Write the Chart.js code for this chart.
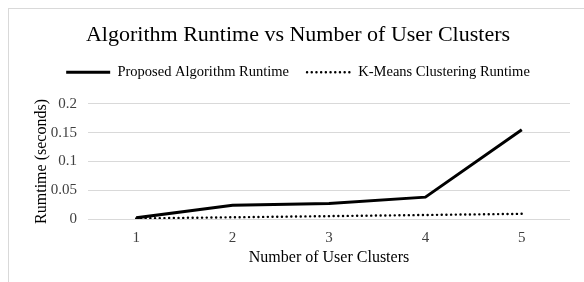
<!DOCTYPE html>
<html>
<head>
<meta charset="utf-8">
<script src="https://cdn.jsdelivr.net/npm/chart.js@4/dist/chart.umd.min.js"></script>
<style>
  html, body { margin: 0; padding: 0; background: #fff; }
  #wrap { position: relative; width: 584px; height: 282px; }
  #frame { position: absolute; left: 8px; top: 8px; width: 600px; height: 300px;
           border-left: 1px solid #d9d9d9; border-top: 1px solid #d9d9d9; }
  canvas { position: absolute; left: 0; top: 0; }
</style>
</head>
<body>
<div id="wrap">
  <div id="frame"></div>
  <canvas id="runtime-chart" width="584" height="282"></canvas>
</div>
<script>
// values
const clusters = ['1', '2', '3', '4', '5'];
const proposedRuntime = [0.002, 0.024, 0.027, 0.038, 0.155];
const kmeansRuntime = [0.001, 0.003, 0.005, 0.007, 0.009];
const yTicks = [0, 0.05, 0.1, 0.15, 0.2];

const serif = 'Liberation Serif, Times New Roman, serif';

// title and legend are centred on the wider outer frame, not the canvas
const headerPlacement = {
    id: 'headerPlacement',
    afterLayout(chart) {
        const t = chart.titleBlock;
        const l = chart.legend;
        if (t) {
            const h = t.bottom - t.top;
            t.left = 8; t.right = 588;
            t.top = 35 - 13.2; t.bottom = t.top + h;
        }
        if (l) {
            const h = l.bottom - l.top;
            l.left = 8; l.right = 588;
            l.top = 47; l.bottom = l.top + h;
        }
    }
};

const ctx = document.getElementById('runtime-chart').getContext('2d');
new Chart(ctx, {
    type: 'line',
    data: {
        labels: clusters,
        datasets: [{
            label: 'Proposed Algorithm Runtime',
            data: proposedRuntime,
            borderColor: '#000',
            backgroundColor: '#000',
            borderWidth: 3,
            pointRadius: 0,
            tension: 0
        }, {
            label: 'K-Means Clustering Runtime',
            data: kmeansRuntime,
            borderColor: '#000',
            backgroundColor: '#000',
            borderWidth: 2.4,
            borderDash: [0.1, 4.6],
            borderCapStyle: 'round',
            pointRadius: 0,
            tension: 0
        }]
    },
    options: {
        responsive: false,
        animation: false,
        layout: { padding: { left: 8, right: 14, top: 35, bottom: 10 } },
        plugins: {
            title: {
                display: true,
                text: 'Algorithm Runtime vs Number of User Clusters',
                color: '#000',
                font: { family: serif, size: 22, weight: 'normal' },
                padding: 0
            },
            legend: {
                labels: {
                    color: '#000',
                    font: { family: serif, size: 14.5 },
                    usePointStyle: true,
                    pointStyle: 'line',
                    pointStyleWidth: 44,
                    padding: 18,
                    generateLabels: (chart) => {
                        const items = Chart.defaults.plugins.legend.labels.generateLabels(chart);
                        items.forEach(item => {
                            const ds = chart.data.datasets[item.datasetIndex];
                            item.lineDash = ds.borderDash || [];
                            item.lineWidth = ds.borderWidth;
                            item.lineCap = ds.borderCapStyle || 'butt';
                            item.strokeStyle = ds.borderColor;
                        });
                        return items;
                    }
                }
            },
            tooltip: { enabled: false }
        },
        scales: {
            x: {
                offset: true,
                grid: { display: false, drawTicks: false },
                border: { display: false },
                ticks: { color: '#404040', font: { family: serif, size: 15 }, padding: 10 },
                title: { display: true, text: 'Number of User Clusters', color: '#000',
                         font: { family: serif, size: 16 }, padding: { top: 2, bottom: 5 } },
                afterFit: (scale) => { scale.height = 53; }
            },
            y: {
                min: yTicks[0],
                max: yTicks[yTicks.length - 1],
                afterBuildTicks: (scale) => { scale.ticks = yTicks.map(v => ({ value: v })); },
                ticks: { color: '#404040', font: { family: serif, size: 15 }, padding: 11,
                         callback: (v) => String(+Number(v).toFixed(2)) },
                grid: { color: '#d9d9d9', drawTicks: false },
                border: { display: false },
                title: { display: true, text: 'Rumtime (seconds)', color: '#000',
                         font: { family: serif, size: 16 }, padding: { top: 24, bottom: 0 } },
                afterFit: (scale) => { scale.width = 80; }
            }
        }
    },
    plugins: [headerPlacement]
});
</script>
</body>
</html>
